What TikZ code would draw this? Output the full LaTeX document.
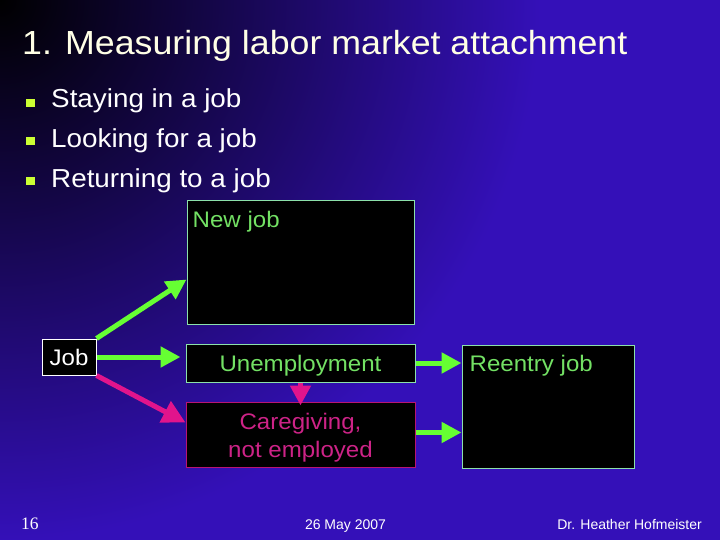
\documentclass[tikz,border=0pt]{standalone}
\usepackage{fontspec}
\setmainfont[FakeStretch=1.07]{Liberation Sans}
\newfontfamily\footfont{Liberation Sans}
\newfontfamily\numfont{Liberation Serif}
\usetikzlibrary{positioning,calc,arrows.meta}
\definecolor{bgblue}{RGB}{52,16,184}
\definecolor{arrgreen}{RGB}{102,255,51}
\definecolor{txtgreen}{RGB}{115,225,100}
\definecolor{edgegreen}{RGB}{140,225,170}
\definecolor{arrmag}{RGB}{225,20,140}
\definecolor{txtmag}{RGB}{205,35,135}
\definecolor{edgemag}{RGB}{185,20,115}
\definecolor{bulletc}{RGB}{204,255,51}
\definecolor{titlec}{RGB}{255,255,230}
\tikzset{
  box/.style={shape=rectangle,fill=black,draw=edgegreen,line width=1pt,
    inner sep=0pt,text=txtgreen,font=\fontsize{22.5}{28}\selectfont},
  boxlabel/.style={anchor=base west,inner sep=0pt,text=txtgreen,
    font=\fontsize{22.5}{28}\selectfont},
  bulletsq/.style={shape=rectangle,fill=bulletc,inner sep=0pt,
    minimum size=8.5pt},
  itemtxt/.style={anchor=base west,inner sep=0pt,text=white,
    font=\fontsize{26}{30}\selectfont},
  footer/.style={inner sep=0pt,text=white,font=\footfont\fontsize{14}{16}\selectfont},
  garrow/.style={draw=arrgreen,line width=5pt,
    -{Triangle[length=20pt,width=20pt]}},
  marrow/.style={draw=arrmag,line width=5pt,
    -{Triangle[length=23pt,width=23pt]}}
}

\begin{document}
\begin{tikzpicture}[x=1pt,y=-1pt]
    \useasboundingbox (0,0) rectangle (720,540);
    % background
    \fill[bgblue] (0,0) rectangle (720,540);
    \begin{scope}
      \clip (0,0) rectangle (720,540);
      \shade[inner color=black,outer color=bgblue] (0,0) circle (540pt);
    \end{scope}

    % title and bullet list
    \node (title) [anchor=base west,inner sep=0pt,text=titlec,
      font=\fontsize{33.4}{38}\selectfont] at (22,55)
      {1. Measuring labor market attachment};
    \node (b1) [bulletsq] at (30.5,103) {};
    \node (b2) [bulletsq] at (30.5,141) {};
    \node (b3) [bulletsq] at (30.5,181) {};
    \node (stay) [itemtxt] at (51,108) {Staying in a job};
    \node (look) [itemtxt] at (51,148) {Looking for a job};
    \node (ret) [itemtxt] at (51,188) {Returning to a job};

    % boxes
    \node (newjob) [box,minimum width=227pt,minimum height=123pt]
      at (300.5,262.5) {};
    \node (newjobtxt) [boxlabel] at ([xshift=6pt,yshift=-27pt]newjob.north west)
      {New job};
    \node (job) [box,draw=white,text=white,minimum width=54pt,
      minimum height=36pt] at (69,357) {Job};
    \node (unemp) [box,minimum width=229pt,minimum height=38pt,
      text height=16.5pt,text depth=0pt] at (300.5,363) {Unemployment};
    \node (care) [box,draw=edgemag,minimum width=229pt,minimum height=65pt]
      at (300.5,434.5) {};
    \node (caretxt) [align=center,inner sep=0pt,text=txtmag,
      font=\fontsize{22.5}{28}\selectfont] at ([yshift=-3pt]care.center)
      {Caregiving,\\not employed};
    \node (reentry) [box,minimum width=172pt,minimum height=123pt]
      at (548,406.5) {};
    \node (reentrytxt) [boxlabel] at ([xshift=8pt,yshift=-27pt]reentry.north west)
      {Reentry job};

    % arrows
    \draw[garrow] (job.north east) -- ([yshift=-17pt]newjob.west);
    \draw[garrow,shorten >=5pt] (job.east) -- (job.east -| unemp.west);
    \draw[marrow] (job.south east) -- ([yshift=12pt]care.west);
    \draw[marrow,-{Triangle[length=20pt,width=20pt]}] (unemp.south)
      -- ([yshift=-4pt]care.north);
    \draw[garrow] (unemp.east) -- (unemp.east -| reentry.west);
    \draw[garrow] ([yshift=2pt]care.east) -- ([yshift=2pt]care.east -| reentry.west);

    % footer
    \node (page) [footer,anchor=base west,font=\numfont\fontsize{17.5}{20}\selectfont]
      at (21,529) {16};
    \node (date) [footer,anchor=base] at (345.5,529) {26 May 2007};
    \node (author) [footer,anchor=base east] at (702,529) {Dr. Heather Hofmeister};
\end{tikzpicture}
\end{document}
